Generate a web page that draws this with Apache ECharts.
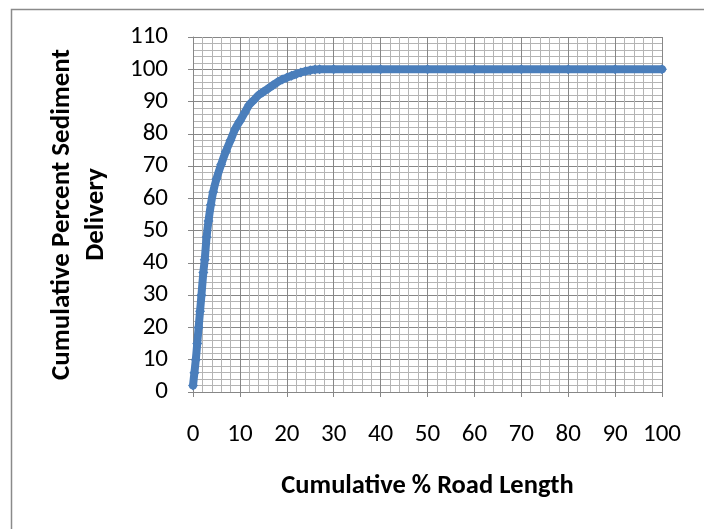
<!DOCTYPE html>
<html>
<head>
<meta charset="utf-8">
<script src="https://cdn.jsdelivr.net/npm/echarts@6/dist/echarts.min.js"></script>
<style>
html,body{margin:0;padding:0;background:#fff;}
#c{width:704px;height:529px;}
</style>
</head>
<body>
<div id="c"></div>
<script>
// Data
const roadLengthPct = [0, 0.3, 0.6, 0.9, 1.2, 1.5, 1.8, 2.2, 2.5, 2.9, 3.3, 3.8, 4.3, 5, 6, 7, 8, 9, 10, 11, 12, 13, 14, 15, 16, 17, 18, 19, 20, 21, 22, 23, 24, 25, 26, 27, 30, 40, 50, 60, 70, 80, 90, 100];
const sedimentPct = [2, 6, 10, 15, 20, 25, 30, 37, 41, 48, 53, 58, 62, 66, 70.5, 74.5, 78, 81.5, 84, 86.5, 89, 90.5, 92, 93, 94, 95, 96, 96.8, 97.4, 98, 98.5, 99, 99.4, 99.7, 99.9, 100, 100, 100, 100, 100, 100, 100, 100, 100];
const xTitle = 'Cumulative % Road Length';
const yTitle = 'Cumulative Percent Sediment\nDelivery';

const FONT = 'Carlito, Calibri, "Liberation Sans", sans-serif';
const chart = echarts.init(document.getElementById('c'), null, {renderer: 'canvas'});
const seriesData = roadLengthPct.map((x, i) => [x, sedimentPct[i]]);

const majorColor = '#878787';
const minorColor = '#b4b4b4';

chart.setOption({
  backgroundColor: '#ffffff',
  animation: false,
  graphic: [{
    type: 'rect',
    left: 9, top: 7,
    shape: {width: 720, height: 540},
    style: {fill: 'none', stroke: '#8a8a8a', lineWidth: 1.5},
    silent: true
  }],
  grid: {left: 193, right: 42, top: 37, bottom: 137, containLabel: false},
  xAxis: {
    type: 'value', min: 0, max: 100, interval: 10,
    name: xTitle, nameLocation: 'middle', nameGap: 81,
    nameTextStyle: {fontFamily: FONT, fontWeight: 'bold', fontSize: 26.5, color: '#000'},
    axisLine: {show: true, onZero: false, lineStyle: {color: majorColor, width: 1}},
    axisTick: {show: true, inside: false, length: 5, lineStyle: {color: majorColor}},
    axisLabel: {fontFamily: FONT, fontSize: 25, color: '#000', margin: 30},
    splitLine: {show: true, lineStyle: {color: majorColor, width: 1}},
    minorTick: {show: false, splitNumber: 5},
    minorSplitLine: {show: true, lineStyle: {color: minorColor, width: 1}}
  },
  yAxis: {
    type: 'value', min: 0, max: 110, interval: 10,
    name: yTitle, nameLocation: 'middle', nameGap: 80,
    nameTextStyle: {fontFamily: FONT, fontWeight: 'bold', fontSize: 27, color: '#000', lineHeight: 34, align: 'center'},
    axisLine: {show: true, lineStyle: {color: majorColor, width: 1}},
    axisTick: {show: true, inside: false, length: 5, lineStyle: {color: majorColor}},
    axisLabel: {fontFamily: FONT, fontSize: 25, color: '#000', margin: 25},
    splitLine: {show: true, lineStyle: {color: majorColor, width: 1}},
    minorTick: {show: false, splitNumber: 5},
    minorSplitLine: {show: true, lineStyle: {color: minorColor, width: 1}}
  },
  series: [{
    type: 'line',
    data: seriesData,
    smooth: 0.3,
    showSymbol: true,
    symbol: 'diamond',
    symbolSize: 10,
    lineStyle: {color: '#4A7EBB', width: 8, cap: 'round', join: 'round'},
    itemStyle: {color: '#4A7EBB', borderWidth: 0},
    clip: false
  }]
});
</script>
</body>
</html>
